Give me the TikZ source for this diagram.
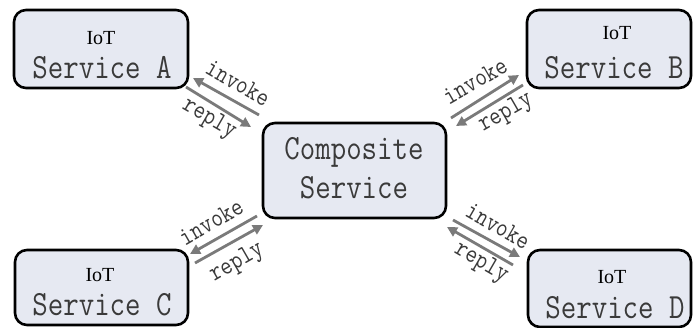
\documentclass[tikz,border=0pt]{standalone}
\usepackage{fontspec}
\usepackage{graphicx}
\usetikzlibrary{arrows.meta}
\newfontfamily\iotfont{Liberation Serif}
\definecolor{boxfill}{HTML}{E6E9F2}
\definecolor{arrowgray}{HTML}{7A7A7A}
\definecolor{textgray}{HTML}{3A3A3A}
% monospace lettering drawn a little taller than its natural shape
\newcommand{\tallmono}[1]{\scalebox{1}[1.18]{#1}}
\tikzset{
  svcbox/.style={draw=black, line width=2.6pt, rounded corners=12pt, fill=boxfill,
                 inner sep=0pt, outer sep=0pt},
  iotlabel/.style={font=\iotfont\fontsize{20}{24}\selectfont, text=black, inner sep=0pt},
  svclabel/.style={font=\ttfamily\fontsize{30}{36}\selectfont, text=textgray, inner sep=0pt},
  msgarrow/.style={draw=arrowgray, line width=2.8pt,
                   -{Triangle[length=10pt,width=10pt]}},
  msglabel/.style={font=\ttfamily\fontsize{22.5}{26}\selectfont, text=textgray, inner sep=0pt}
}
\begin{document}
\begin{tikzpicture}[x=1pt,y=-1pt]
  \useasboundingbox (0,0) rectangle (693,328);
  \clip (0,0) rectangle (693,328);

  % service boxes
  \node[svcbox, minimum width=174pt, minimum height=78pt] (A) at (101,49) {};
  \node[svcbox, minimum width=164pt, minimum height=78pt] (B) at (609,49) {};
  \node[svcbox, minimum width=173pt, minimum height=75pt] (C) at (101.5,287.5) {};
  \node[svcbox, minimum width=163pt, minimum height=77pt] (D) at (609.5,288.5) {};
  \node[svcbox, minimum width=183pt, minimum height=95pt] (S) at (354.5,170.5) {};

  % box texts
  \node[iotlabel] (Aiot) at (101,38) {IoT};
  \node[svclabel] (Asvc) at (102,68) {\tallmono{Service A}};
  \node[iotlabel] (Biot) at (617,33) {IoT};
  \node[svclabel] (Bsvc) at (614,68) {\tallmono{Service B}};
  \node[iotlabel] (Ciot) at (100,275) {IoT};
  \node[svclabel] (Csvc) at (102,305) {\tallmono{Service C}};
  \node[iotlabel] (Diot) at (612,277) {IoT};
  \node[svclabel] (Dsvc) at (615,308) {\tallmono{Service D}};
  \node[svclabel] (Scomp) at (354,152) {\tallmono{Composite}};
  \node[svclabel] (Ssvc) at (354,188) {\tallmono{Service}};

  % arrow end points
  \coordinate (Ainv1) at (259,115);  \coordinate (Ainv2) at (193,78);
  \coordinate (Arep1) at (186,87);   \coordinate (Arep2) at (251,127);
  \coordinate (Binv1) at (451,118);  \coordinate (Binv2) at (519,75);
  \coordinate (Brep1) at (523,85);   \coordinate (Brep2) at (456,126);
  \coordinate (Cinv1) at (257,216);  \coordinate (Cinv2) at (190,254);
  \coordinate (Crep1) at (195,263);  \coordinate (Crep2) at (263,225);
  \coordinate (Dinv1) at (453,220);  \coordinate (Dinv2) at (520,257);
  \coordinate (Drep1) at (513,265);  \coordinate (Drep2) at (447,227);

  % invoke / reply arrows
  \draw[msgarrow] (Ainv1) -- (Ainv2);
  \draw[msgarrow] (Arep1) -- (Arep2);
  \draw[msgarrow] (Binv1) -- (Binv2);
  \draw[msgarrow] (Brep1) -- (Brep2);
  \draw[msgarrow] (Cinv1) -- (Cinv2);
  \draw[msgarrow] (Crep1) -- (Crep2);
  \draw[msgarrow] (Dinv1) -- (Dinv2);
  \draw[msgarrow] (Drep1) -- (Drep2);

  % arrow labels
  \node[msglabel, rotate=-30] (Ainvl) at (238,83) {\tallmono{invoke}};
  \node[msglabel, rotate=-30] (Arepl) at (209,119) {\tallmono{reply}};
  \node[msglabel, rotate=30] (Binvl) at (475,81) {\tallmono{invoke}};
  \node[msglabel, rotate=30] (Brepl) at (506,113) {\tallmono{reply}};
  \node[msglabel, rotate=30] (Cinvl) at (211,222) {\tallmono{invoke}};
  \node[msglabel, rotate=30] (Crepl) at (237,263) {\tallmono{reply}};
  \node[msglabel, rotate=-30] (Dinvl) at (498,226) {\tallmono{invoke}};
  \node[msglabel, rotate=-30] (Drepl) at (481,263) {\tallmono{reply}};
\end{tikzpicture}
\end{document}
